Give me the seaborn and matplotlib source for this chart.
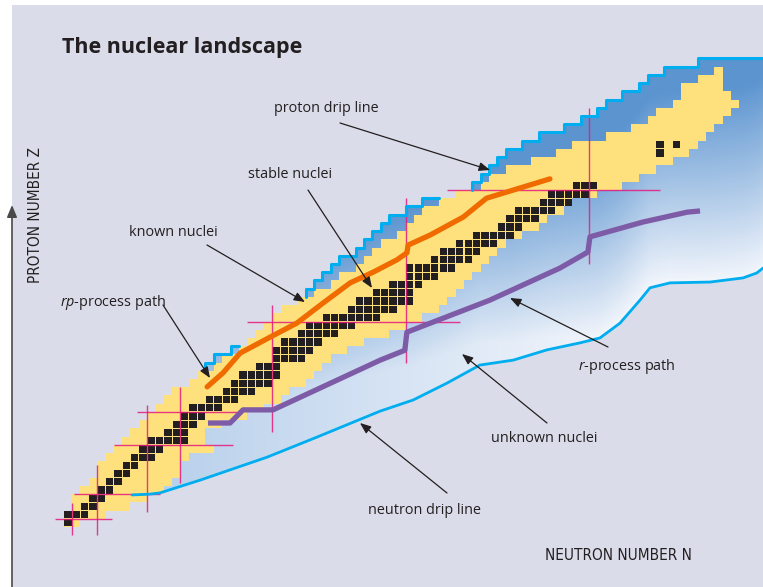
import numpy as np
import pandas as pd
import matplotlib.pyplot as plt
from matplotlib.patches import Polygon
import seaborn as sns

# ---------------- data (N = neutrons, Z = protons) ----------------
# known nuclei: one row per 2 protons, first and last neutron edge of the yellow band
known_z = [0, 2, 4, 6, 8, 10, 12, 14, 16, 18, 20, 22, 24, 26, 28, 30, 32, 34, 36, 38,
           40, 42, 44, 46, 48, 50, 52, 54, 56, 58, 60, 62, 64, 66, 68, 70, 72, 74, 76, 78,
           80, 82, 84, 86, 88, 90, 92, 94, 96, 98, 100, 102, 104, 106, 108, 110]
known_lo = [0, 0, 2, 2, 4, 6, 8, 8, 10, 12, 14, 16, 18, 20, 22, 24, 26, 30, 32, 36,
            38, 42, 44, 46, 48, 50, 52, 56, 60, 64, 66, 70, 72, 74, 76, 80, 82, 84, 86, 90,
            94, 100, 102, 106, 112, 118, 122, 130, 136, 140, 142, 146, 148, 148, 152, 156]
known_hi = [4, 10, 16, 20, 24, 26, 28, 28, 30, 36, 34, 34, 38, 44, 48, 52, 54, 58, 60, 62,
            64, 68, 72, 78, 82, 86, 90, 92, 94, 96, 98, 100, 102, 104, 106, 110, 114, 116, 120, 122,
            128, 134, 138, 142, 146, 150, 152, 154, 156, 158, 160, 162, 160, 158, 158, 158]

# stable nuclei, 2x2 cells: row Z and the N of each black cell
stable_z = [0, 2, 4, 6, 8, 10, 12, 14, 16, 18, 20, 22, 24, 26, 28, 30, 32, 34, 36, 38,
            40, 42, 44, 46, 48, 50, 52, 54, 56, 58, 60, 62, 64, 66, 68, 70, 72, 74, 76, 78,
            80, 82, 90, 92]
stable_n = [[0], [0, 2, 4], [4, 6], [6, 8], [8, 10], [10, 12], [12, 14], [14, 16],
            [16, 18, 20], [18, 20, 22], [20, 22, 24, 26, 28], [24, 26, 28], [26, 28, 30],
            [28, 30, 32], [30, 32, 34, 36], [34, 36, 38, 40], [38, 40, 42, 44],
            [40, 42, 44, 46, 48], [42, 44, 46, 48, 50], [46, 48, 50], [50, 52, 54, 56],
            [50, 52, 54, 56, 58], [52, 54, 56, 58, 60], [56, 58, 60, 62, 64],
            [58, 60, 62, 64, 66, 68], [62, 64, 66, 68, 70, 72, 74], [68, 70, 72, 74, 76, 78],
            [70, 72, 74, 76, 78, 80, 82], [74, 76, 78, 80, 82], [78, 80, 82, 84],
            [82, 84, 86, 88], [82, 84, 86, 88, 90, 92], [88, 90, 92, 94, 96],
            [90, 92, 94, 96, 98], [94, 96, 98, 100, 102], [98, 100, 102, 104, 106],
            [104, 106, 108], [106, 108, 110, 112], [108, 110, 112, 114, 116],
            [114, 116, 118, 120], [116, 118, 120, 122, 124], [122, 124, 126], [142], [142, 146]]

# proton drip line (stair), three visible pieces
drip_a_z = [38, 40, 42]
drip_a_n = [34, 36, 40]
drip_b_z = [56, 58, 60, 62, 64, 66, 68, 70, 72, 74, 76, 78]
drip_b_n = [58, 60, 62, 64, 66, 70, 72, 74, 76, 78, 82, 86]
drip_c_z = [82, 84, 86, 88, 90, 92, 94, 96, 98, 100, 102, 104, 106, 108, 110, 112]
drip_c_n = [98, 100, 102, 104, 106, 110, 114, 120, 124, 128, 130, 134, 138, 140, 144, 152]

# neutron drip line
ndrip_n = [16.4, 20.7, 23.1, 32.7, 48.8, 60.8, 75.9, 83.8, 91.9, 99.8, 107.8, 115.9,
           123.8, 128.6, 133.4, 138.2, 140.6, 145.4, 155.0, 162.9, 166.2, 167.7]
ndrip_z = [7.8, 8.0, 8.3, 11.4, 17.0, 21.9, 28.2, 30.9, 35.0, 39.4, 40.6, 43.1,
           44.8, 46.0, 49.6, 55.2, 58.2, 59.4, 59.6, 60.6, 61.8, 63.0]

# rp-process and r-process paths
rp_n = [34.4, 38.2, 42.3, 49.5, 55.9, 62.2, 68.7, 74.2, 79.9, 82.3, 82.6, 87.8, 95.8, 101.4, 116.6]
rp_z = [34.1, 37.5, 42.3, 46.2, 49.6, 54.5, 59.4, 62.0, 65.0, 66.7, 68.6, 71.0, 75.4, 80.0, 84.7]
r_n = [34.6, 39.9, 43.0, 50.2, 75.9, 81.8, 82.3, 102.2, 119.0, 125.7, 126.2, 138.9, 149.5, 152.6]
r_z = [25.3, 25.3, 28.5, 28.5, 40.6, 43.0, 47.4, 55.2, 63.0, 66.9, 70.6, 74.2, 76.6, 76.9]

# magic numbers and the span of each guide line
magic_n = [2, 8, 20, 28, 50, 82, 126]
magic_n_zlo = [-2, -2, 3.6, 10.7, 23, 40, 64]
magic_n_zhi = [5.8, 15, 29.7, 34, 54, 80, 102]
magic_z = [2, 8, 20, 28, 50, 82]
magic_z_nlo = [-2, 2.5, 12, 17.6, 44, 92]
magic_z_nhi = [11.6, 23, 40.6, 42, 95, 143]

# ---------------- style ----------------
BG = '#dbdce9'
YELLOW = '#fee17c'
BLACK = '#231f20'
CYAN = '#00aeef'
ORANGE = '#ef6b00'
PURPLE = '#7e5ba6'
MAGENTA = '#e6197e'
DARK_BLUE = np.array([85, 144, 206]) / 255
LIGHT_BLUE = np.array([246, 248, 253]) / 255
CELL = 1.75  # drawn size of a 2x2 stable cell, leaves a thin gap

sns.set_theme(style='white')
plt.rcParams['font.family'] = ['Open Sans', 'DejaVu Sans']
plt.rcParams['mathtext.fontset'] = 'custom'
plt.rcParams['mathtext.it'] = 'Open Sans:italic'
plt.rcParams['mathtext.rm'] = 'Open Sans'

# pixel layout of the scale: N=0 at x=63.7 px, Z=0 at y=527 px
X0, SX, Y0, SY = 63.7, 4.17, 527.0, 4.11
W, H = 763, 587


def px(x, y):
    return (x - X0) / SX, (Y0 - y) / SY


fig = plt.figure(figsize=(W / 100, H / 100), dpi=100, facecolor='white')
ax = fig.add_axes([12 / W, 0, (W - 12) / W, (H - 5) / H])
ax.set_facecolor(BG)
xmin, zmax = px(12, 5)
xmax, zmin = px(W, H)


def stair(rows, ns):
    pts = []
    for z, n in zip(rows, ns):
        pts += [(n, z), (n, z + 2)]
    return pts


# ---- unknown nuclei: blue gradient region between the drip lines ----
drip_all = dict(zip(drip_a_z + drip_b_z + drip_c_z, drip_a_n + drip_b_n + drip_c_n))
lo_map = dict(zip(known_z, known_lo))
upper_rows = [z for z in known_z + [112] if z >= 8]
upper_ns = [drip_all.get(z, lo_map.get(z, 0) + 2) for z in upper_rows]
blue_verts = (stair(upper_rows, upper_ns) + [(xmax + 5, 114), (xmax + 5, ndrip_z[-1])]
              + list(zip(ndrip_n[::-1], ndrip_z[::-1])))
blue_patch = Polygon(blue_verts, closed=True, facecolor='none', edgecolor='none')
ax.add_patch(blue_patch)

gn = np.linspace(xmin, xmax, 760)
gz = np.linspace(zmin, zmax, 590)
GX = X0 + SX * gn
GY = Y0 - SY * gz
line_y = np.interp(GX, X0 + SX * np.array(ndrip_n), Y0 - SY * np.array(ndrip_z))
dist = line_y[None, :] - GY[:, None]
lmax = np.clip(0.65 + 0.33 * (GX - 200) / 420, 0.62, 0.97)
light = np.clip(np.minimum(lmax[None, :], 0.98 - dist / 205), 0.04, 1.0)
rgb = DARK_BLUE + (LIGHT_BLUE - DARK_BLUE) * light[..., None]
im = ax.imshow(rgb, extent=[xmin, xmax, zmin, zmax], origin='lower', aspect='auto',
               interpolation='bilinear', zorder=1)
im.set_clip_path(blue_patch)

# ---- known nuclei (yellow) ----
yellow_verts = stair(known_z, known_lo)
for z, n in zip(known_z[::-1], known_hi[::-1]):
    yellow_verts += [(n, z + 2), (n, z)]
ax.add_patch(Polygon(yellow_verts, closed=True, facecolor=YELLOW, edgecolor='none', zorder=2))

# ---- stable nuclei: one black square per 2x2 cell ----
cells = [(n + 1, z) for z, ns in zip(stable_z, stable_n) for n in ns]
df = pd.DataFrame(cells, columns=['N', 'Z'])
ax.bar(df['N'], CELL, bottom=df['Z'] + (2 - CELL) / 2, width=CELL, color=BLACK,
       linewidth=0, zorder=3)

# ---- magic number guides ----
ax.vlines(magic_n, magic_n_zlo, magic_n_zhi, color=MAGENTA, lw=1.0, alpha=0.85, zorder=4)
ax.hlines(magic_z, magic_z_nlo, magic_z_nhi, color=MAGENTA, lw=1.0, alpha=0.85, zorder=4)

# ---- drip lines ----
for rows, ns, end in [(drip_a_z, drip_a_n, (lo_map[42], 44)),
                      (drip_b_z, drip_b_n, (lo_map[78], 80)),
                      (drip_c_z, drip_c_n, (xmax + 5, 114))]:
    pts = stair(rows, ns) + [end]
    sns.lineplot(x=[p[0] for p in pts], y=[p[1] for p in pts], sort=False, estimator=None,
                 color=CYAN, lw=2.2, ax=ax, zorder=5)
sns.lineplot(x=ndrip_n, y=ndrip_z, sort=False, estimator=None, color=CYAN, lw=2.0,
             ax=ax, zorder=5)

# ---- process paths ----
sns.lineplot(x=rp_n, y=rp_z, sort=False, estimator=None, color=ORANGE, lw=3.8,
             solid_capstyle='round', ax=ax, zorder=6)
sns.lineplot(x=r_n, y=r_z, sort=False, estimator=None, color=PURPLE, lw=3.8,
             solid_capstyle='butt', ax=ax, zorder=6)

# ---- labels and arrows ----
labels = [('proton drip line', (326, 108), (340, 123), (490, 170)),
          ('stable nuclei', (290, 175), (308, 190), (372, 288)),
          ('known nuclei', (173, 232), (207, 245), (305, 302)),
          ('$rp$-process path', (113, 302), (163, 305), (210, 378)),
          ('$r$-process path', (627, 366), (608, 347), (510, 298)),
          ('unknown nuclei', (544, 438), (547, 423), (462, 354)),
          ('neutron drip line', (425, 511), (447, 493), (360, 423))]
for text, pos, tail, head in labels:
    ax.text(*px(*pos), text, ha='center', va='center', fontsize=10.4, color=BLACK, zorder=8)
    ax.annotate('', xy=px(*head), xytext=px(*tail),
                arrowprops=dict(arrowstyle='-|>,head_length=0.55,head_width=0.22',
                                color=BLACK, lw=0.9, shrinkA=0, shrinkB=0), zorder=8)

ax.text(*px(62, 48), 'The nuclear landscape', ha='left', va='center', fontsize=15.5,
        fontweight='bold', color=BLACK)
ax.text(*px(35, 215), 'PROTON NUMBER Z', rotation=90, ha='center', va='center',
        fontsize=11, family='DejaVu Sans', fontstretch='condensed', color=BLACK)
ax.text(*px(545, 556), 'NEUTRON NUMBER N', ha='left', va='center',
        fontsize=11, family='DejaVu Sans', fontstretch='condensed', color=BLACK)
ax.annotate('', xy=(12, H - 205), xytext=(12, 0), xycoords='figure pixels',
            textcoords='figure pixels', annotation_clip=False,
            arrowprops=dict(arrowstyle='-|>,head_length=0.6,head_width=0.25',
                            color='#4a4a4a', lw=1.2, shrinkA=0, shrinkB=0))

ax.set_xlim(xmin, xmax)
ax.set_ylim(zmin, zmax)
ax.set_xlabel('')
ax.set_ylabel('')
ax.set_xticks([])
ax.set_yticks([])
sns.despine(ax=ax, left=True, bottom=True)

fig.savefig('out.png', dpi=100, facecolor='white')
